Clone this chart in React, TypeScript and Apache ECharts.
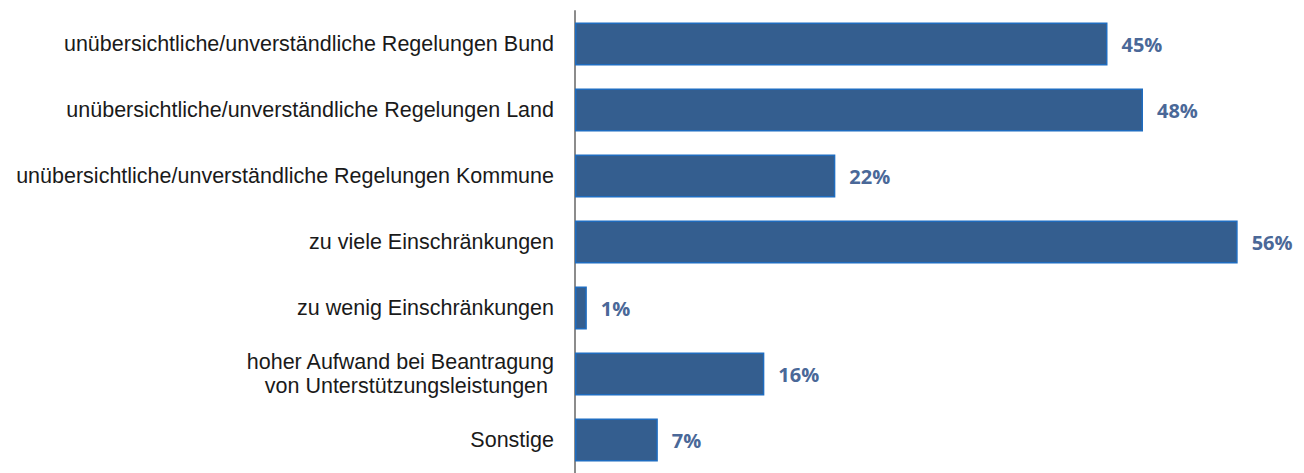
import React, { useEffect, useRef } from "react";
import * as echarts from "echarts";

const categories = [
  "unübersichtliche/unverständliche Regelungen Bund",
  "unübersichtliche/unverständliche Regelungen Land",
  "unübersichtliche/unverständliche Regelungen Kommune",
  "zu viele Einschränkungen",
  "zu wenig Einschränkungen",
  "hoher Aufwand bei Beantragung\nvon Unterstützungsleistungen ",
  "Sonstige",
];
const values = [45, 48, 22, 56, 1, 16, 7];

export default function App() {
  const ref = useRef<HTMLDivElement>(null);
  useEffect(() => {
    if (!ref.current) return;
    const chart = echarts.init(ref.current, undefined, { renderer: "svg" });
    chart.setOption({
      animation: false,
      grid: { left: 575, width: 710, top: 11, height: 464, containLabel: false },
      xAxis: { type: "value", min: 0, max: 60, show: false },
      yAxis: {
        type: "category",
        inverse: true,
        data: categories,
        axisLine: { show: true, lineStyle: { color: "#8c8c8c", width: 2 } },
        axisTick: { show: false },
        axisLabel: {
          margin: 21,
          color: "#1a1a1a",
          fontFamily: "Liberation Sans, Arial, sans-serif",
          fontSize: 21.5,
          lineHeight: 24,
          align: "right",
        },
      },
      series: [
        {
          type: "bar",
          data: values,
          barCategoryGap: "35%",
          itemStyle: { color: "#345e8f", borderColor: "#1f6cbf", borderWidth: 1.5 },
          label: {
            show: true,
            position: "right",
            distance: 14,
            formatter: "{c}%",
            color: "#4a6898",
            fontWeight: "bold",
            fontFamily: "Open Sans, Lato, sans-serif",
            fontSize: 20,
          },
        },
      ],
    });
    return () => chart.dispose();
  }, []);
  return (
    <div
      ref={ref}
      style={{ position: "absolute", left: 0, top: 0, width: 1304, height: 473 }}
    />
  );
}
